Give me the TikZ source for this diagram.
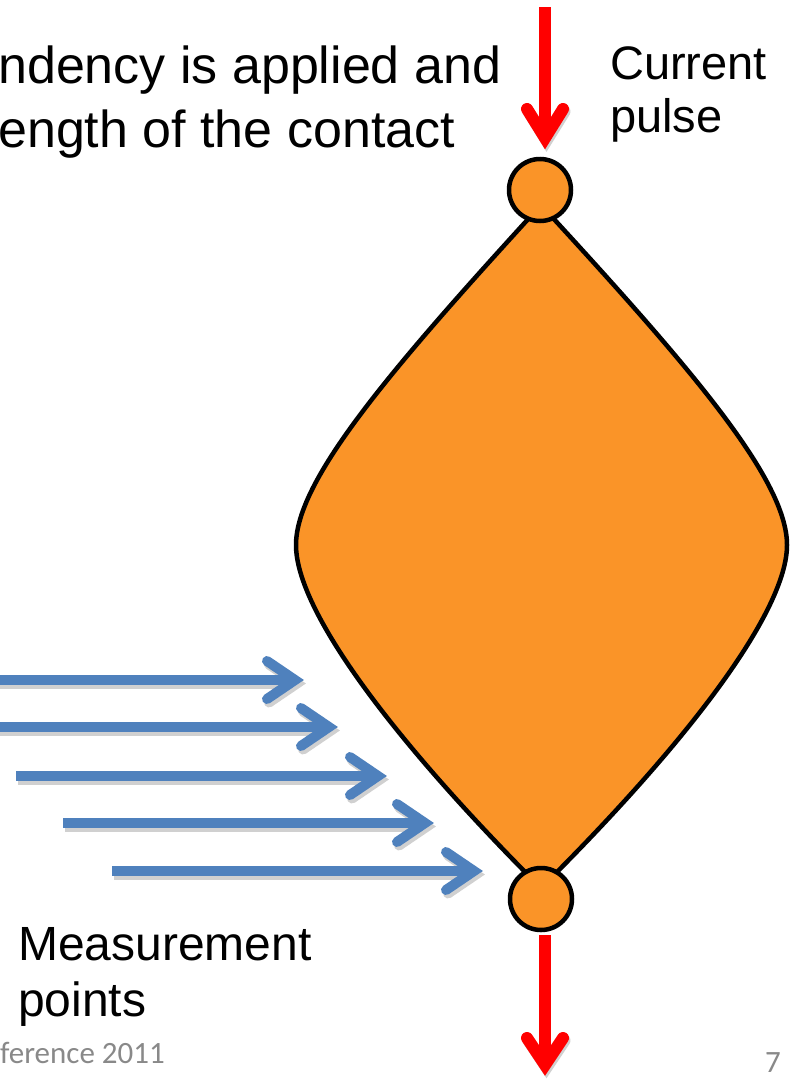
\documentclass[tikz,border=0pt]{standalone}
\usepackage{fontspec}
\setmainfont{Liberation Sans}
\newfontfamily\footfont{Carlito}
\usetikzlibrary{calc}
\definecolor{lensorange}{RGB}{250,148,40}
\definecolor{pulsered}{RGB}{255,0,0}
\definecolor{probeblue}{RGB}{79,129,189}
\definecolor{footgray}{RGB}{137,137,137}
\definecolor{dropgray}{RGB}{208,208,208}
\begin{document}
\begin{tikzpicture}[x=1pt,y=-1pt,
  body/.style={draw=black, line width=4.5pt, fill=lensorange, line join=round},
  terminal/.style={circle, draw=black, line width=4.5pt, fill=lensorange,
    minimum size=62pt, inner sep=0pt},
  redshaft/.style={draw=pulsered, line width=12pt},
  redhead/.style={draw=pulsered, line width=12pt, line cap=round, line join=miter},
  blueshaft/.style={draw=probeblue, line width=10pt},
  bluehead/.style={draw=probeblue, line width=10pt, line cap=round, line join=miter},
  dropshaft/.style={draw=dropgray, line width=10pt},
  drophead/.style={draw=dropgray, line width=10pt, line cap=round, line join=miter},
  txt/.style={inner sep=0pt, text=black, anchor=base west},
  bigtxt/.style={txt, font=\fontsize{52}{64}\selectfont},
  sidetxt/.style={txt, font=\fontsize{47}{53}\selectfont},
  foot/.style={inner sep=0pt, text=footgray, font=\footfont\fontsize{31}{36}\selectfont},
]
\useasboundingbox (0,0) rectangle (790,1079);

% lens-shaped contact body
\path[body] (541,205) .. controls (390,370) and (296,480) .. (296,545)
  .. controls (296,610) and (391,738) .. (541,888)
  .. controls (692,738) and (787,610) .. (787,545)
  .. controls (787,480) and (693,370) .. (541,205) -- cycle;

% terminals
\node[terminal] (tc) at (540,190) {};
\node[terminal] (bc) at (541,899) {};

% current pulse in and out
\coordinate (rin) at (545,7);
\coordinate (rtj) at (545,138);
\coordinate (rta) at (527,109);
\coordinate (rtb) at (563,109);
\coordinate (rout) at (545,935);
\coordinate (rbj) at (545,1065);
\coordinate (rba) at (527,1038);
\coordinate (rbb) at (563,1038);
\foreach \j/\a/\b in {rtj/rta/rtb, rbj/rba/rbb}
  \draw[drophead, line width=12pt] ($(\a)+(1.5,2.5)$) -- ($(\j)+(1.5,2.5)$) -- ($(\b)+(1.5,2.5)$);
\draw[redshaft] (rin) -- (rtj);
\draw[redhead] (rta) -- (rtj) -- (rtb);
\draw[redshaft] (rout) -- (rbj);
\draw[redhead] (rba) -- (rbj) -- (rbb);

% measurement probes
\foreach \i/\xs/\yy/\xt in {1/-5/680/304, 2/-5/727/338, 3/16/776/387, 4/63/823/434, 5/112/871/483} {
  \coordinate (m\i) at (\xs,\yy);
  \coordinate (p\i) at (\xt-9,\yy);
  \coordinate (w\i a) at (\xt-37,\yy-19);
  \coordinate (w\i b) at (\xt-37,\yy+19);
}
\foreach \i in {1,...,5} {
  \draw[dropshaft] ($(m\i)+(2,3.5)$) -- ($(p\i)+(2,3.5)$);
  \draw[drophead] ($(w\i a)+(2,3.5)$) -- ($(p\i)+(2,3.5)$) -- ($(w\i b)+(2,3.5)$);
}
\foreach \i in {1,...,5} {
  \draw[blueshaft] (m\i) -- (p\i);
  \draw[bluehead] (w\i a) -- (p\i) -- (w\i b);
}

% texts
\node[bigtxt] (t1) at (-2,83) {ndency is applied and};
\node[bigtxt] (t2) at (-2,147) {ength of the contact};
\node[sidetxt] (c1) at (610,79) {Current};
\node[sidetxt] (c2) at (610,132) {pulse};
\node[sidetxt, font=\fontsize{48}{56}\selectfont] (mp1) at (18,960) {Measurement};
\node[sidetxt, font=\fontsize{48}{56}\selectfont] (mp2) at (18,1016) {points};
\node[foot, anchor=base west] (f1) at (0,1063) {ference 2011};
\node[foot, anchor=base east] (f2) at (781,1072) {7};
\end{tikzpicture}
\end{document}
